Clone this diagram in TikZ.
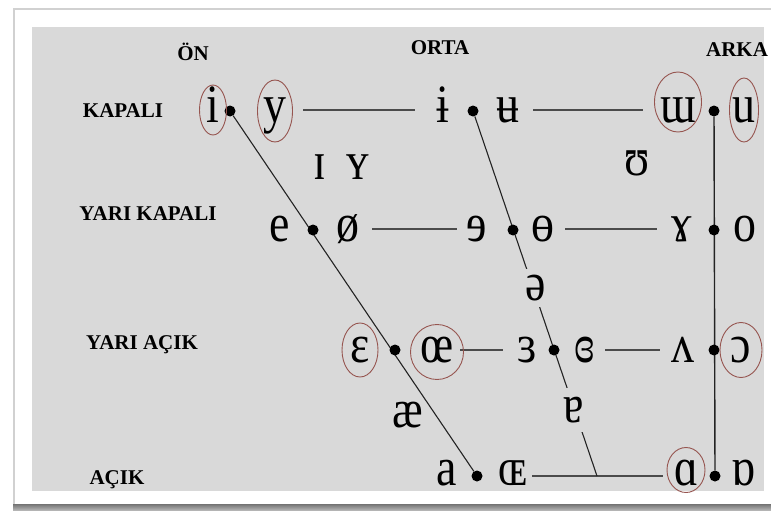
\documentclass[tikz,border=0pt]{standalone}
\usepackage{fontspec}
\setmainfont{Liberation Serif}
\newfontfamily\ipafont[FakeStretch=0.85]{Liberation Serif}
\usetikzlibrary{calc}
\pgfdeclarelayer{back}
\pgfdeclarelayer{lines}
\pgfsetlayers{back,lines,main}
\definecolor{panel}{RGB}{217,217,217}
\definecolor{ringc}{RGB}{150,85,80}
\definecolor{ink}{RGB}{35,35,35}
\definecolor{rulec}{RGB}{75,75,75}
\tikzset{
  lab/.style={font=\fontsize{21}{21}\selectfont\bfseries, inner sep=0pt, text height=14pt, text depth=0pt},
  sym/.style={font=\ipafont\fontsize{54}{54}\selectfont, inner sep=0pt, text height=25pt, text depth=0pt, text=black},
  dotn/.style={circle, fill=black, inner sep=0pt, minimum size=11pt},
  hline/.style={draw=rulec, line width=1.8pt},
  slant/.style={draw=ink, line width=1.1pt},
  ring/.style={draw=ringc, line width=0.9pt},
  gap/.style={fill=panel}
}
\begin{document}
\begin{tikzpicture}[x=1pt,y=-1pt]
\useasboundingbox (0,0) rectangle (771,511);
\begin{pgfonlayer}{back}
  \fill[white] (0,0) rectangle (771,511);
  \shade[top color=black!55, bottom color=black!25] (13,504) rectangle (771,511);
  \fill[black!18] (13,8) rectangle (771,504);
  \fill[white] (15,10) rectangle (771,504);
  \fill[panel] (32,27) rectangle (764,491);
\end{pgfonlayer}

% labels
\node[lab] (on)   at (193,54)  {ÖN};
\node[lab] (orta) at (440,48)  {ORTA};
\node[lab] (arka) at (737,50)  {ARKA};
\node[lab] (kap)  at (123,110) {KAPALI};
\node[lab] (ykap) at (148,213) {YARI KAPALI};
\node[lab] (yac)  at (142,342) {YARI AÇIK};
\node[lab] (ac)   at (117,477) {AÇIK};

% row 1
\node[sym] (i1) at (213,110) {i};
\node[dotn] (d1) at (230,111) {};
\node[sym] (y1) at (275,110) {y};
\node[sym] (ib) at (443,110) {ɨ};
\node[dotn] (d2) at (473,111) {};
\node[sym] (ub) at (508,110) {ʉ};
\node[sym] (mw) at (678,110) {ɯ};
\node[dotn] (d3) at (714,111) {};
\node[sym] (u1) at (744,110) {u};

% near-close
\node[sym] (ic) at (320,167) {ɪ};
\node[sym] (yc) at (358,167) {ʏ};
\node[sym] (uc) at (637,163) {ʊ};

% row 2
\node[sym] (e2) at (280,229) {e};
\node[dotn] (d4) at (313,230) {};
\node[sym] (o2) at (348,229) {ø};
\node[sym] (re) at (477,229) {ɘ};
\node[dotn] (d5) at (513,230) {};
\node[sym] (bo) at (543,229) {ɵ};
\node[sym] (ga) at (682,229) {ɤ};
\node[dotn] (d6) at (714,230) {};
\node[sym] (oo) at (745,229) {o};

% schwa
\node[sym, gap, inner xsep=2pt, inner ysep=6.5pt] (sw) at (536,288) {ə};

% row 3
\node[sym] (ep) at (360,350) {ɛ};
\node[dotn] (d7) at (395,350) {};
\node[sym] (oe) at (437,350) {œ};
\node[sym] (r3) at (527,350) {ɜ};
\node[dotn] (d8) at (554,350) {};
\node[sym] (c3) at (585,350) {ɞ};
\node[sym] (vv) at (683,350) {ʌ};
\node[dotn] (d9) at (714,350) {};
\node[sym] (oc) at (741,350) {ɔ};

% near-open
\node[sym] (ae) at (408,415) {æ};
\node[sym, gap, inner xsep=2pt, inner ysep=9.5pt] (ta) at (574,410) {ɐ};

% row 4
\node[sym] (a4) at (447,473) {a};
\node[dotn] (d10) at (477,476) {};
\node[sym] (oe4) at (513,473) {ɶ};
\node[sym] (aa) at (686,473) {ɑ};
\node[dotn] (d11) at (715,476) {};
\node[sym] (ab) at (743,473) {ɒ};
\coordinate (j) at (597,476);

% connectors
\begin{pgfonlayer}{lines}
  \draw[hline] ([xshift=28pt]y1.center) -- ([xshift=-28pt]ib.center);
  \draw[hline] ([xshift=25pt]ub.center) -- ([xshift=-35pt]mw.center);
  \draw[hline] ([xshift=24pt]o2.center) -- ([xshift=-20pt]re.center);
  \draw[hline] ([xshift=22pt]bo.center) -- ([xshift=-25pt]ga.center);
  \draw[hline] ([xshift=23pt]oe.center) -- ([xshift=-24pt]r3.center);
  \draw[hline] ([xshift=20pt]c3.center) -- ([xshift=-23pt]vv.center);
  \draw[hline] ([xshift=19pt,yshift=-3pt]oe4.center) -- ([xshift=-23pt,yshift=-3pt]aa.center);
  \draw[slant] (d1) -- (d10);
  \draw[slant] (d2) -- (j);
  \draw[slant, line width=1.4pt] (d3) -- (d11);
\end{pgfonlayer}

% rings
\draw[ring] (i1.center) ellipse [x radius=13.5pt, y radius=25pt];
\draw[ring] ([yshift=-1pt]y1.center) ellipse [x radius=17.5pt, y radius=31pt];
\draw[ring] ([yshift=8pt]mw.center) ellipse [x radius=23.5pt, y radius=30pt];
\draw[ring] (u1.center) ellipse [x radius=14.5pt, y radius=32pt];
\draw[ring] (ep.center) ellipse [x radius=18pt, y radius=27pt];
\draw[ring] ([yshift=-2pt]oe.center) ellipse [x radius=26.5pt, y radius=27.5pt];
\draw[ring] (oc.center) ellipse [x radius=21pt, y radius=27.5pt];
\draw[ring] ([yshift=3pt]aa.center) ellipse [x radius=19pt, y radius=22.5pt];
\end{tikzpicture}
\end{document}
